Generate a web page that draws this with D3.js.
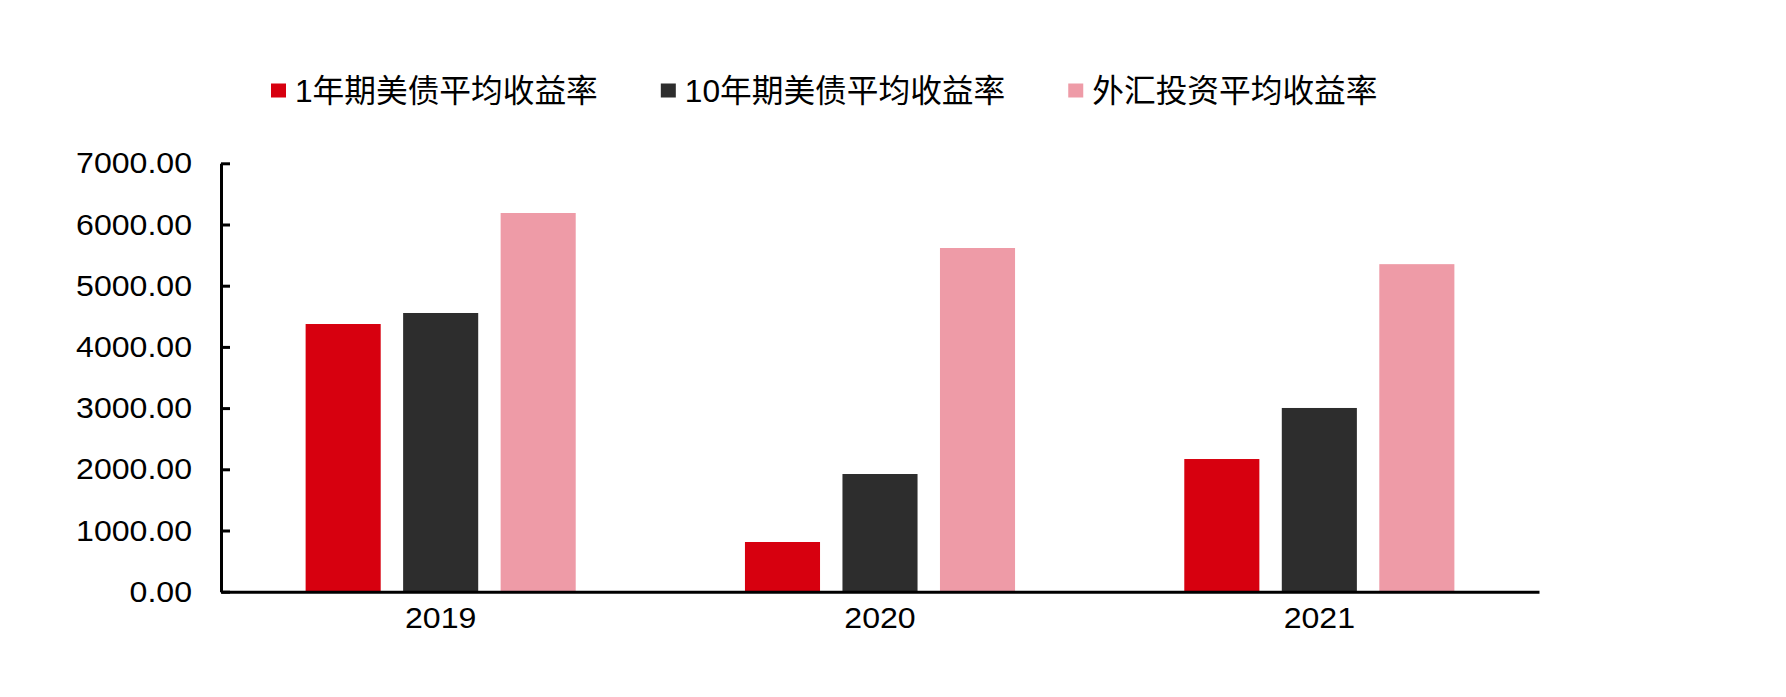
<!DOCTYPE html>
<html>
<head>
<meta charset="utf-8">
<script src="https://cdn.jsdelivr.net/npm/d3@7"></script>
<style>
  html, body { margin: 0; padding: 0; background: #fff; }
  svg { display: block; }
</style>
</head>
<body>
<svg id="chart" width="1786" height="697"></svg>
<script>
// ---- data ----
const years = ["2019", "2020", "2021"];
const seriesNames = ["1年期美债平均收益率", "10年期美债平均收益率", "外汇投资平均收益率"];
const oneYear = [4374, 812, 2168];
const tenYear = [4554, 1923, 3002];
const fxInvest = [6188, 5616, 5352];
const yTicks = [0, 1000, 2000, 3000, 4000, 5000, 6000, 7000];
const colors = ["#D7000F", "#2D2D2D", "#EE9BA7"];

const seriesValues = [oneYear, tenYear, fxInvest];

// ---- layout ----
const plotLeft = 221, plotRight = 1539, plotTop = 163.3, plotBottom = 591.7;
const svg = d3.select("#chart");
const latin = "'Liberation Sans', Arial, sans-serif";
const cjk = "'Liberation Sans', 'Noto Sans CJK SC', sans-serif";
const stretch = 1.07;

const y = d3.scaleLinear().domain([0, 7000]).range([plotBottom, plotTop]);
const pi = 1 - 292.5 / 439.3;
const x0 = d3.scaleBand().domain(years).range([plotLeft, plotRight]).paddingInner(pi).paddingOuter(pi / 2);
const x1 = d3.scaleBand().domain(d3.range(seriesNames.length)).range([0, x0.bandwidth()])
  .paddingInner(0.23).paddingOuter(0.115);

// bars
const groups = svg.append("g").selectAll("g").data(years).join("g")
  .attr("transform", d => `translate(${x0(d)},0)`);
groups.selectAll("rect")
  .data((d, i) => seriesValues.map((vals, s) => ({ s, v: vals[i] })))
  .join("rect")
  .attr("x", d => x1(d.s))
  .attr("width", x1.bandwidth())
  .attr("y", d => y(d.v))
  .attr("height", d => y(0) - y(d.v))
  .attr("fill", d => colors[d.s]);

// y axis
const yAxis = svg.append("g").attr("transform", `translate(${plotLeft},0)`)
  .call(d3.axisLeft(y).tickValues(yTicks).tickFormat(d3.format(".2f"))
    .tickSizeInner(-9).tickSizeOuter(0).tickPadding(29));
yAxis.select(".domain").attr("stroke", "#000").attr("stroke-width", 3);
yAxis.selectAll(".tick line").attr("stroke", "#000").attr("stroke-width", 3);
yAxis.selectAll(".tick text")
  .attr("font-family", latin).attr("font-size", 30).attr("fill", "#000")
  .attr("x", 0).attr("transform", `translate(-29,0) scale(${stretch},1)`);

// x axis
const xAxis = svg.append("g").attr("transform", `translate(0,${plotBottom})`)
  .call(d3.axisBottom(x0).tickSize(0).tickPadding(15));
xAxis.select(".domain").attr("stroke", "#000").attr("stroke-width", 3);
xAxis.selectAll(".tick text")
  .attr("font-family", latin).attr("font-size", 30).attr("fill", "#000")
  .attr("transform", `scale(${stretch},1)`);

// legend
const legend = svg.append("g");
let cursor = 271;
seriesNames.forEach((name, i) => {
  legend.append("rect")
    .attr("x", cursor).attr("y", 83.5).attr("width", 15).attr("height", 14)
    .attr("fill", colors[i]);
  const t = legend.append("text")
    .attr("x", cursor + 24).attr("y", 102)
    .attr("font-family", cjk).attr("font-size", 31.7).attr("fill", "#000")
    .text(name);
  cursor = cursor + 24 + t.node().getComputedTextLength() + 63;
});
</script>
</body>
</html>
